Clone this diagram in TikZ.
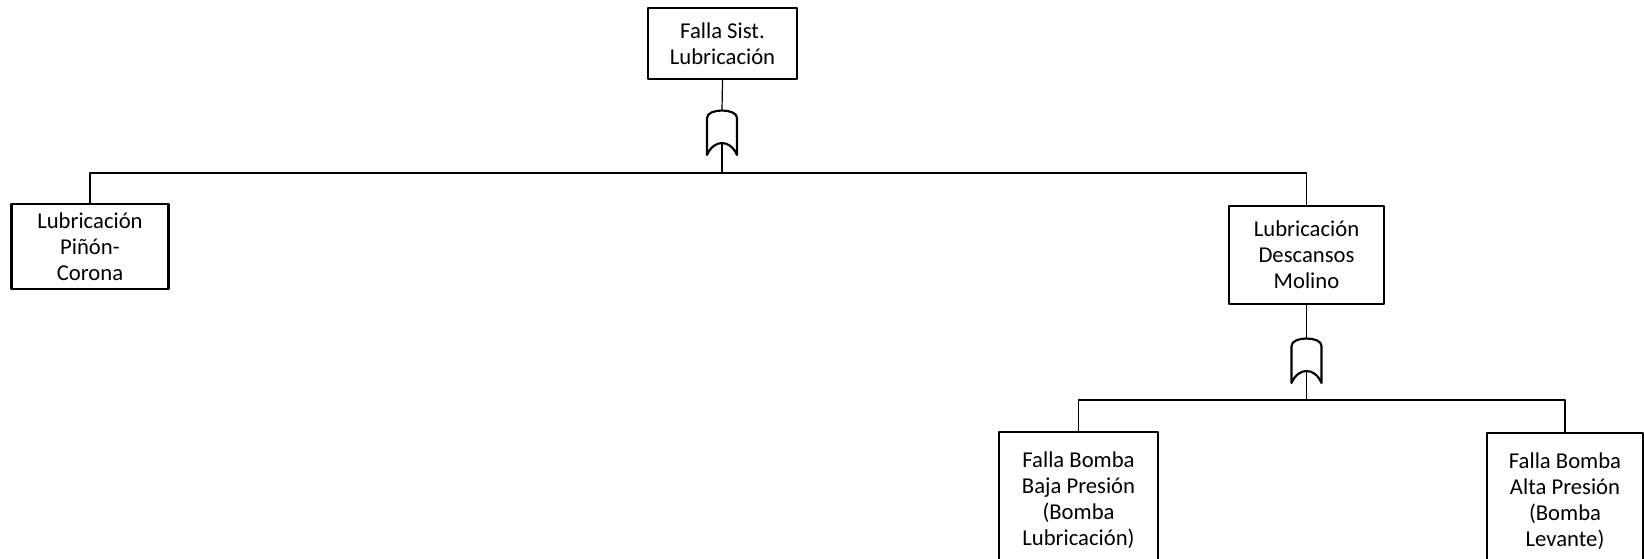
\documentclass[tikz,border=0pt]{standalone}
\usepackage{fontspec}
\setmainfont{Carlito}
\tikzset{
	box/.style={draw, line width=1.8pt, align=center, inner sep=0pt, font=\fontsize{17}{19.4}\selectfont},
	wire/.style={line width=0.9pt},
	orgate/.pic={
		\draw[line width=1.6pt] (-15,45) -- (-15,8) .. controls (-15,-2) and (15,-2) .. (15,8)
			-- (15,45) .. controls (8,29) and (-8,29) .. (-15,45) -- cycle;
		\coordinate (-out) at (0,0);
		\coordinate (-in) at (0,33);
	}
}
\begin{document}
\begin{tikzpicture}[x=0.75pt, y=-0.75pt, line join=round]
	\useasboundingbox (0,0) rectangle (1644,559);
	% evento superior
	\node[box, minimum width=111.75pt, minimum height=53.25pt] (sist) at (722.5,43.5) {Falla Sist.\\Lubricación};
	\pic (g1) at (722,110) {orgate};
	\coordinate (bar1) at (722,173);
	\draw[wire] (sist.south) -- (g1-out);
	\draw[wire] (g1-in) -- (bar1);
	% ramas del primer nivel
	\node[box, minimum width=117.75pt, minimum height=63.75pt] (pinon) at (90,246.5) {Lubricación\\Piñón-\\Corona};
	\node[box, minimum width=116.25pt, minimum height=73.5pt] (desc) at (1306.5,255) {Lubricación\\Descansos\\Molino};
	\draw[wire] (bar1) -| (pinon.north);
	\draw[wire] (bar1) -| (desc.north);
	% bombas
	\pic (g2) at (1306.5,338) {orgate};
	\coordinate (bar2) at (1306.5,400);
	\draw[wire] (desc.south) -- (g2-out);
	\draw[wire] (g2-in) -- (bar2);
	\node[box, minimum width=119.25pt, minimum height=102pt] (baja) at (1078.5,500) {Falla Bomba\\Baja Presión\\(Bomba\\Lubricación)};
	\node[box, minimum width=117pt, minimum height=102pt] (alta) at (1565,501) {Falla Bomba\\Alta Presión\\(Bomba\\Levante)};
	\draw[wire] (bar2) -| (baja.north);
	\draw[wire] (bar2) -| (alta.north);
\end{tikzpicture}
\end{document}
